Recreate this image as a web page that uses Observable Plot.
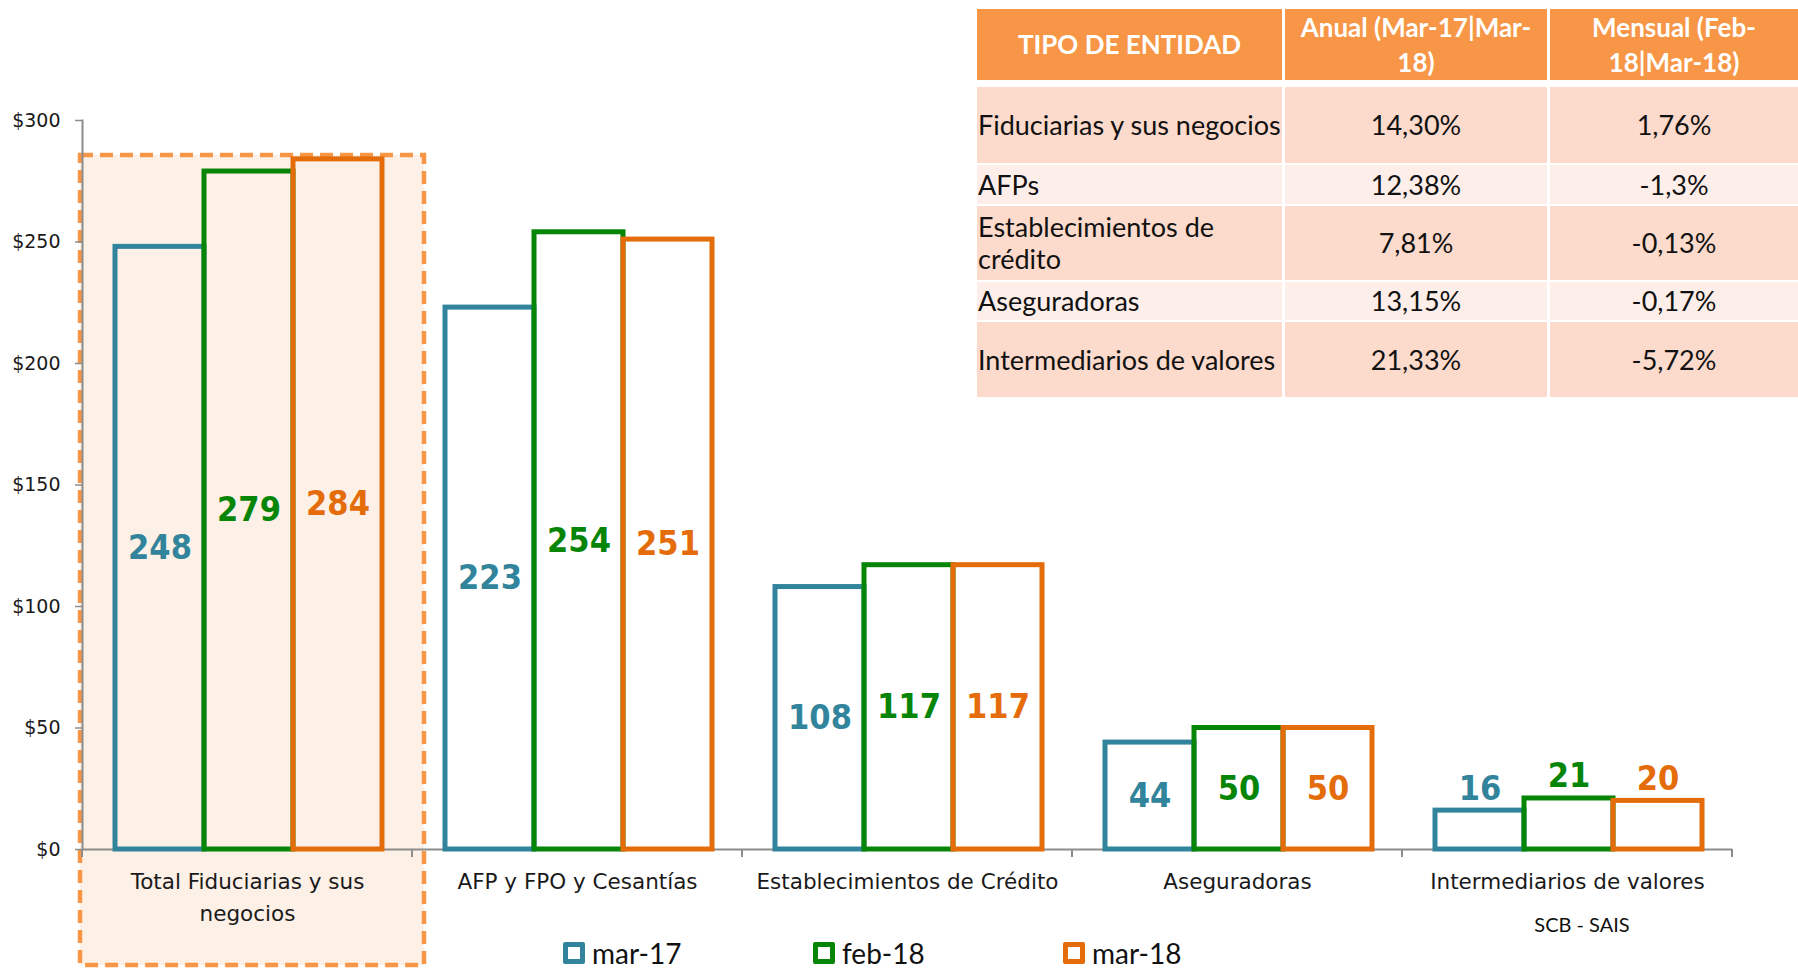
<!DOCTYPE html>
<html>
<head>
<meta charset="utf-8">
<script src="https://cdn.jsdelivr.net/npm/d3@7"></script>
<script src="https://cdn.jsdelivr.net/npm/@observablehq/plot@0.6"></script>
<style>
  body { margin: 0; background: #fff; }
  #wrap { position: relative; width: 1798px; height: 968px; overflow: hidden; background: #fff; }
  #chart { position: absolute; left: 0; top: 0; }
  #table { position: absolute; left: 977px; top: 9px; display: grid;
    grid-template-columns: 305px 262px 248px; column-gap: 3px; row-gap: 2px;
    grid-template-rows: 76px 76px 39px 74px 38px 75px;
    font-family: Lato, "Open Sans", sans-serif; color: #111; }
  #table .h { background: #f79646; color: #fff; font-weight: bold; font-size: 26px; line-height: 35px;
    display: flex; align-items: center; justify-content: center; text-align: center; margin-bottom: 5px; }
  #table .c { display: flex; align-items: center; font-size: 27px; line-height: 32px; }
  #table .c.name { justify-content: flex-start; padding-left: 1px; }
  #table .c.num { justify-content: center; }
  #table .dark { background: #fcdacc; }
  #table .light { background: #fdeeea; }
  #legend { position: absolute; left: 0; top: 937px; width: 1798px; height: 31px;
    font-family: Lato, "Open Sans", sans-serif; font-size: 28px; color: #111; }
  #legend .item { position: absolute; top: 0; display: flex; align-items: center; height: 31px; }
  #legend .sw { width: 12px; height: 12px; border: 5px solid; border-radius: 2px; background: #fff; margin-right: 7px; }
  #note { position: absolute; top: 912px; transform: translateX(-50%);
    font-family: Lato, "Open Sans", sans-serif; font-size: 20px; color: #111; white-space: nowrap; }
</style>
</head>
<body>
<div id="wrap">
  <div id="chart"></div>
  <div id="table"></div>
  <div id="legend"></div>
  <div id="note"></div>
</div>
<script>
// ---------- Data ----------
const categories = ["Total Fiduciarias y sus negocios", "AFP y FPO y Cesantías", "Establecimientos de Crédito", "Aseguradoras", "Intermediarios de valores"];
const categoryLabels = ["Total Fiduciarias y sus\nnegocios", "AFP y FPO y Cesantías", "Establecimientos de Crédito", "Aseguradoras", "Intermediarios de valores"];
const series = ["mar-17", "feb-18", "mar-18"];
const seriesColors = ["#31849b", "#078507", "#e46c0a"];
const mar17 = [248, 223, 108, 44, 16];
const feb18 = [279, 254, 117, 50, 21];
const mar18 = [284, 251, 117, 50, 20];
const yTicks = [0, 50, 100, 150, 200, 250, 300];
const highlighted = ["Total Fiduciarias y sus negocios"];
const labelAbove = ["Intermediarios de valores"];
const sourceNote = "SCB - SAIS";

const tableHeader = ["TIPO DE ENTIDAD", "Anual (Mar-17|Mar-\n18)", "Mensual (Feb-\n18|Mar-18)"];
const tableEntities = ["Fiduciarias y sus negocios", "AFPs", "Establecimientos de crédito", "Aseguradoras", "Intermediarios de valores"];
const tableAnual = ["14,30%", "12,38%", "7,81%", "13,15%", "21,33%"];
const tableMensual = ["1,76%", "-1,3%", "-0,13%", "-0,17%", "-5,72%"];

// ---------- Build rows ----------
const seriesValues = [mar17, feb18, mar18];
const rows = [];
series.forEach((s, i) => categories.forEach((c, j) => rows.push({cat: c, series: s, value: seriesValues[i][j]})));

const axisGray = "#8c8c8c";

function boundaryTicks(index, scales, values, dims) {
  const ns = "http://www.w3.org/2000/svg";
  const g = document.createElementNS(ns, "g");
  const y0 = dims.height - dims.marginBottom;
  for (const x of [dims.marginLeft, dims.width - dims.marginRight]) {
    const l = document.createElementNS(ns, "line");
    l.setAttribute("x1", x); l.setAttribute("x2", x);
    l.setAttribute("y1", y0); l.setAttribute("y2", y0 + 8);
    l.setAttribute("stroke", axisGray); l.setAttribute("stroke-width", 2);
    g.appendChild(l);
  }
  return g;
}

const chart = Plot.plot({
  width: 1798,
  height: 968,
  marginTop: 120,
  marginBottom: 119,
  marginLeft: 80,
  marginRight: 64,
  fx: {domain: categories, padding: 0},
  x: {domain: series, paddingInner: 0, paddingOuter: 0.347, align: 0.53, axis: null},
  y: {domain: [0, 300]},
  color: {domain: series, range: seriesColors},
  style: {fontFamily: "'DejaVu Sans', sans-serif", fontSize: "20px", color: "#1a1a1a", background: "transparent"},
  marks: [
    Plot.rect(highlighted, {
      fx: d => d,
      y1: 0,
      y2: d => d3.max(rows.filter(r => r.cat === d), r => r.value),
      fill: "#fcf0e7", stroke: "#f79646", strokeWidth: 4.5, strokeDasharray: "13,7",
      insetTop: -4, insetBottom: -116, insetLeft: -2, insetRight: -12
    }),
    Plot.axisY({ticks: yTicks, tickFormat: d => "$" + d, tickSize: 7, tickPadding: 15, stroke: axisGray, strokeWidth: 1.5, fontSize: 19, label: null}),
    Plot.frame({anchor: "left", facetAnchor: "left", stroke: axisGray, strokeWidth: 2}),
    Plot.ruleY([0], {stroke: axisGray, strokeWidth: 2}),
    boundaryTicks,
    Plot.axisFx({anchor: "bottom", tickSize: 0, tickPadding: 17, label: null, fontSize: 21.5, lineHeight: 1.48,
      tickFormat: d => categoryLabels[categories.indexOf(d)]}),
    Plot.barY(rows, {fx: "cat", x: "series", y: "value", fill: "none", stroke: "series", strokeWidth: 5}),
    Plot.text(rows.filter(d => !labelAbove.includes(d.cat)), {
      fx: "cat", x: "series", y: d => d.value / 2, text: d => String(d.value),
      fill: "series", fontSize: 34, fontWeight: "bold", fontFamily: "'DejaVu Sans Condensed', 'DejaVu Sans', sans-serif"
    }),
    Plot.text(rows.filter(d => labelAbove.includes(d.cat)), {
      fx: "cat", x: "series", y: "value", text: d => String(d.value),
      fill: "series", fontSize: 34, fontWeight: "bold", fontFamily: "'DejaVu Sans Condensed', 'DejaVu Sans', sans-serif",
      lineAnchor: "bottom", dy: -11
    })
  ]
});
document.getElementById("chart").appendChild(chart);

// ---------- Table ----------
const table = document.getElementById("table");
tableHeader.forEach(h => {
  const d = document.createElement("div");
  d.className = "h";
  d.innerHTML = h.split("\n").join("<br>");
  table.appendChild(d);
});
tableEntities.forEach((e, i) => {
  const cls = i % 2 === 0 ? "dark" : "light";
  [[e, "name"], [tableAnual[i], "num"], [tableMensual[i], "num"]].forEach(([t, k]) => {
    const d = document.createElement("div");
    d.className = "c " + k + " " + cls;
    const s = document.createElement("span");
    s.textContent = t;
    d.appendChild(s);
    table.appendChild(d);
  });
});

// ---------- Legend ----------
const legend = document.getElementById("legend");
series.forEach((s, i) => {
  const it = document.createElement("div");
  it.className = "item";
  it.style.left = (563 + i * 250) + "px";
  const sw = document.createElement("span");
  sw.className = "sw";
  sw.style.borderColor = seriesColors[i];
  const t = document.createElement("span");
  t.textContent = s;
  it.appendChild(sw); it.appendChild(t);
  legend.appendChild(it);
});

// ---------- Source note ----------
const note = document.getElementById("note");
note.textContent = sourceNote;
const fxScale = chart.scale("fx");
note.style.left = (fxScale.apply(categories[categories.length - 1]) + fxScale.bandwidth / 2 + 15) + "px";
</script>
</body>
</html>
